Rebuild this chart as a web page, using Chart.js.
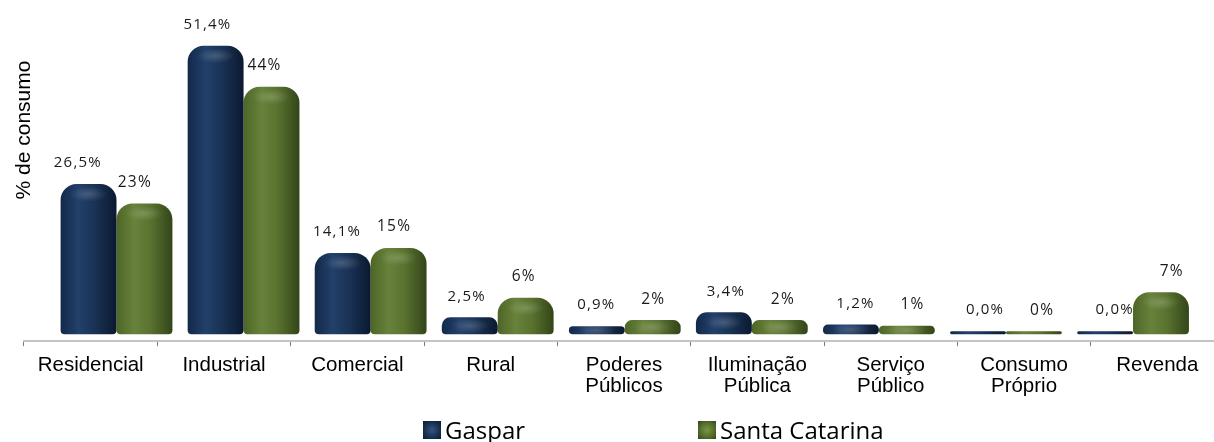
<!DOCTYPE html>
<html>
<head>
<meta charset="utf-8">
<title>Consumo de energia por classe</title>
<script src="https://cdn.jsdelivr.net/npm/chart.js@4.4.1/dist/chart.umd.min.js"></script>
<style>
  html, body { margin: 0; padding: 0; background: #fff; }
  #wrap { position: relative; width: 1214px; height: 442px; overflow: hidden; }
  #c { position: absolute; left: 0; top: 0; }
  #legend { position: absolute; left: 0; top: 0; width: 1214px; height: 442px; pointer-events: none;
            font-family: "Open Sans", sans-serif; font-size: 24px; color: #000; }
  .item { position: absolute; top: 418px; height: 24px; line-height: 24px; display: flex; align-items: center; white-space: nowrap; }
  .sw { width: 18px; height: 18px; margin-right: 4px; }
</style>
</head>
<body>
<div id="wrap">
  <canvas id="c" width="1240" height="442"></canvas>
  <div id="legend"></div>
</div>
<script>
// Participação de cada classe no consumo de energia elétrica (%)
const categories = [
  'Residencial',
  'Industrial',
  'Comercial',
  'Rural',
  ['Poderes', 'Públicos'],
  ['Iluminação', 'Pública'],
  ['Serviço', 'Público'],
  ['Consumo', 'Próprio'],
  'Revenda'
];
const gaspar = [26.5, 51.4, 14.1, 2.5, 0.9, 3.4, 1.2, 0.0, 0.0];
const santaCatarina = [23, 44, 15, 6, 2, 2, 1, 0, 7];
const seriesNames = ['Gaspar', 'Santa Catarina'];
const yTitle = '% de consumo';

// cylinder shading: left edge, highlight, body, right edge
const palettes = [
  ['#13294a', '#22406a', '#1a3356', '#0b1930'],
  ['#4d6627', '#68823b', '#5a732f', '#33451a']
];
const swatchGradients = [
  'radial-gradient(circle at 50% 50%, #34557f 0%, #1a3254 55%, #0c1a30 100%)',
  'radial-gradient(circle at 50% 50%, #7a9645 0%, #566e2c 55%, #33451a 100%)'
];

const labelFormats = [
  v => v.toFixed(1).replace('.', ',') + '%',
  v => v.toFixed(0) + '%'
];
const labelFonts = ['15px "Open Sans"', '15.5px "Open Sans"'];

const cylinderPlugin = {
  id: 'cylinder',
  beforeDatasetsDraw(chart) {
    const ctx = chart.ctx;
    chart.data.datasets.forEach((ds, di) => {
      const meta = chart.getDatasetMeta(di);
      const pal = palettes[di];
      meta.data.forEach(el => {
        const { x, width } = el.getProps(['x', 'width'], true);
        const g = ctx.createLinearGradient(x - width / 2, 0, x + width / 2, 0);
        g.addColorStop(0, pal[0]);
        g.addColorStop(0.32, pal[1]);
        g.addColorStop(0.6, pal[2]);
        g.addColorStop(1, pal[3]);
        el.options = Object.assign({}, el.options, { backgroundColor: g });
      });
    });
  },
  afterDatasetsDraw(chart) {
    const ctx = chart.ctx;
    const area = chart.chartArea;
    const mid = (area.left + area.right) / 2;
    chart.data.datasets.forEach((ds, di) => {
      const meta = chart.getDatasetMeta(di);
      meta.data.forEach((el, i) => {
        const { x, y, base, width } = el.getProps(['x', 'y', 'base', 'width'], true);
        const h = base - y;
        // soft glint just below the rounded top
        if (h > 4) {
          ctx.save();
          ctx.beginPath();
          ctx.rect(x - width / 2, y, width, h);
          ctx.clip();
          const cy = y + Math.min(10, h / 2);
          const r = width * 0.34;
          ctx.translate(x, cy);
          ctx.scale(1, 0.4);
          const rg = ctx.createRadialGradient(0, 0, 0, 0, 0, r);
          rg.addColorStop(0, 'rgba(255,255,255,0.18)');
          rg.addColorStop(1, 'rgba(255,255,255,0)');
          ctx.fillStyle = rg;
          ctx.beginPath();
          ctx.arc(0, 0, r, 0, Math.PI * 2);
          ctx.fill();
          ctx.restore();
        }
        // value label
        const v = ds.data[i].y;
        ctx.save();
        ctx.font = labelFonts[di];
        ctx.letterSpacing = '1.2px';
        ctx.fillStyle = '#1a1a1a';
        ctx.textAlign = 'center';
        ctx.textBaseline = 'middle';
        ctx.fillText(labelFormats[di](v), x + (x - mid) * 0.02, y - 21);
        ctx.restore();
      });
    });
  },
  afterDraw(chart) {
    const ctx = chart.ctx;
    ctx.save();
    ctx.font = '21px "Liberation Sans"';
    ctx.fillStyle = '#000';
    ctx.translate(29.5, 130);
    ctx.rotate(-Math.PI / 2);
    ctx.textAlign = 'center';
    ctx.textBaseline = 'alphabetic';
    ctx.fillText(yTitle, 0, 0);
    ctx.restore();
  }
};

Chart.defaults.font.family = '"Liberation Sans", Arial, sans-serif';

const chart = new Chart(document.getElementById('c'), {
  type: 'bar',
  data: {
    labels: categories,
    datasets: [
      {
        label: seriesNames[0],
        data: gaspar.map((v, i) => ({ x: i, y: v })),
        backgroundColor: palettes[0][2],
        xAxisID: 'xb',
        base: -0.54
      },
      {
        label: seriesNames[1],
        data: santaCatarina.map((v, i) => ({ x: i, y: v })),
        backgroundColor: palettes[1][2],
        xAxisID: 'xb',
        base: -0.54
      }
    ]
  },
  options: {
    responsive: false,
    animation: false,
    events: [],
    categoryPercentage: 0.88,
    barPercentage: 1.0,
    borderRadius: { topLeft: 16, topRight: 16, bottomLeft: 4, bottomRight: 4 },
    borderSkipped: false,
    borderWidth: 0,
    layout: { padding: { left: 24, right: 16, top: 20, bottom: 36 } },
    plugins: {
      legend: { display: false },
      tooltip: { enabled: false },
      title: { display: false }
    },
    scales: {
      x: {
        type: 'category',
        position: 'bottom',
        offset: true,
        grid: { offset: true, drawOnChartArea: false, drawTicks: true, tickLength: 5, color: '#7a7a7a', lineWidth: 1 },
        border: { display: true, color: '#c4c4c4', width: 2 },
        ticks: {
          font: { size: 20.5, lineHeight: 1.02 },
          color: '#000',
          padding: 9,
          maxRotation: 0,
          minRotation: 0,
          autoSkip: false
        }
      },
      xb: {
        type: 'linear',
        display: false,
        position: 'bottom',
        offset: false,
        grid: { offset: false },
        bounds: 'data',
        min: -0.728,
        max: 8.716,
        afterBuildTicks: s => { s.ticks = [{ value: s.min }, { value: s.max }]; }
      },
      y: {
        type: 'linear',
        display: false,
        min: -1.8,
        max: 56.04
      }
    }
  },
  plugins: [cylinderPlugin]
});

// legend built from the chart's datasets
const legendEl = document.getElementById('legend');
const legendLefts = [423, 698];
chart.data.datasets.forEach((ds, i) => {
  const item = document.createElement('div');
  item.className = 'item';
  item.style.left = legendLefts[i] + 'px';
  const sw = document.createElement('span');
  sw.className = 'sw';
  sw.style.background = swatchGradients[i];
  const tx = document.createElement('span');
  tx.textContent = ds.label;
  item.appendChild(sw);
  item.appendChild(tx);
  legendEl.appendChild(item);
});
</script>
</body>
</html>
